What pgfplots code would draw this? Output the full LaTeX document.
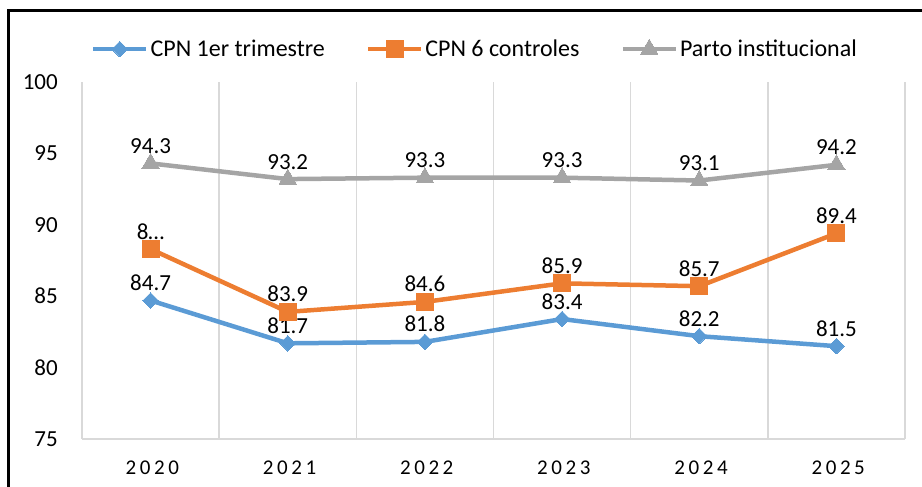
\documentclass[border=0pt]{standalone}
\usepackage{pgfplots}
\pgfplotsset{compat=1.18}
\usepackage{pgfplotstable}
\usepackage{fontspec}
\setmainfont{Carlito}
\newfontfamily\yearfont{Carlito}[LetterSpace=17]
\definecolor{cblue}{HTML}{5B9BD5}
\definecolor{corange}{HTML}{ED7D31}
\definecolor{cgray}{HTML}{A5A5A5}
\definecolor{gridgray}{HTML}{D9D9D9}

\pgfplotstableread{
x y lab
0 84.7 84.7
1 81.7 81.7
2 81.8 81.8
3 83.4 83.4
4 82.2 82.2
5 81.5 81.5
}\trimestre
\pgfplotstableread{
x y lab
0 88.3 8…
1 83.9 83.9
2 84.6 84.6
3 85.9 85.9
4 85.7 85.7
5 89.4 89.4
}\controles
\pgfplotstableread{
x y lab
0 94.3 94.3
1 93.2 93.2
2 93.3 93.3
3 93.3 93.3
4 93.1 93.1
5 94.2 94.2
}\parto

\begin{document}
\begin{tikzpicture}[x=1pt,y=1pt]
\begin{axis}[
    scale only axis, width=823pt, height=357pt,
    xmin=-0.5, xmax=5.5, ymin=75, ymax=100,
    xtick={0,...,5},
    xticklabels={2020,2021,2022,2023,2024,2025},
    minor xtick={-0.5,0.5,...,5.5},
    xminorgrids,
    minor grid style={draw=gridgray, line width=1.5pt},
    ytick={75,80,...,100},
    extra y ticks={75}, extra y tick labels={},
    extra y tick style={grid=major, major grid style={draw=gridgray, line width=1.5pt}},
    axis line style={draw=none},
    tick style={draw=none},
    /pgf/number format/assume math mode=true,
    yticklabel style={font=\fontsize{23}{27}\selectfont, anchor=east, inner sep=0pt, xshift=-24pt},
    xticklabel style={font=\yearfont\fontsize{21}{25}\selectfont, anchor=base, inner sep=0pt, yshift=-36pt, xshift=1.8pt},
    clip=false,
    nodes near coords,
    point meta=explicit symbolic,
    every node near coord/.append style={anchor=base, inner sep=0pt, yshift=10pt, font=\fontsize{23}{27}\selectfont, text=black},
    legend columns=3,
    legend style={at={(0.4775,1.092)}, anchor=center, draw=none, fill=none,
        font=\fontsize{24}{28}\selectfont,
        /tikz/every even column/.append style={column sep=39pt}},
    legend cell align=left,
    legend image code/.code={\draw[mark repeat=2,mark phase=2,#1] plot coordinates {(0pt,0pt) (26.5pt,0pt) (53pt,0pt)};},
]
\addplot[cblue, line width=4.5pt, mark=square*, mark size=5.5pt, mark options={rotate=45, line width=0pt}]
    table[x=x, y=y, meta=lab] {\trimestre};
\addlegendentry{CPN 1er trimestre}
\addplot[corange, line width=4.5pt, mark=square*, mark size=8.5pt, mark options={line width=0pt}]
    table[x=x, y=y, meta=lab] {\controles};
\addlegendentry{CPN 6 controles}
\addplot[cgray, line width=4.5pt, mark=triangle*, mark size=10pt, mark options={line width=0pt}]
    table[x=x, y=y, meta=lab] {\parto};
\addlegendentry{Parto institucional}
\coordinate (sw) at (rel axis cs:0,0);
\end{axis}
\draw[line width=3pt, shift={(sw)}] (-73.5,-48) -- (-73.5,428) -- (840,428);
\pgfresetboundingbox
\path[use as bounding box, shift={(sw)}] (-82,-48) rectangle ++(922,487);
\end{tikzpicture}
\end{document}
